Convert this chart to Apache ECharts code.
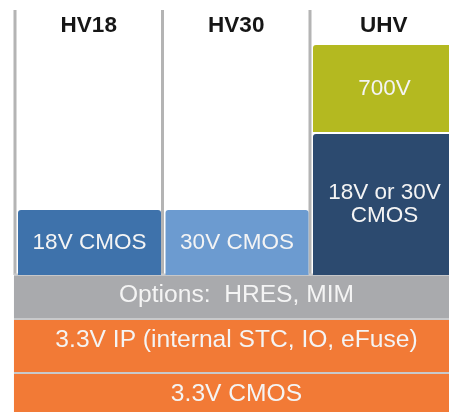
<!DOCTYPE html>
<html>
<head>
<meta charset="utf-8">
<script src="https://cdn.jsdelivr.net/npm/echarts@6/dist/echarts.min.js"></script>
<style>
html,body{margin:0;padding:0;background:#fff;overflow:hidden;width:449px;height:412px;}
#chart{width:462px;height:412px;}
</style>
</head>
<body>
<div id="chart"></div>
<script>
// Column headers (top tick labels)
const columns = ['HV18', 'HV30', 'UHV'];

// Column-specific blocks (stack levels, arbitrary units)
const blockNames  = ['18V CMOS', '30V CMOS', '18V or 30V\nCMOS', '700V'];
const blockColumn = [0, 1, 2, 2];
const blockBottom = [137, 137, 137, 280];
const blockTop    = [202, 202, 278, 367];

// Full-width shared layers
const bandNames  = ['Options:  HRES, MIM', '3.3V IP (internal STC, IO, eFuse)', '3.3V CMOS'];
const bandBottom = [94, 40, -10];
const bandTop    = [136.5, 92, 38];

// Styling
const blockColors = ['#3e72ab', '#6c9bd0', '#2c4a6f', '#b4b920'];
const bandColors  = ['#a9aaad', '#f27a36', '#f27a36'];
const FONT = '"Liberation Sans", Arial, Helvetica, sans-serif';
const TEXT_FILL = '#f4f4f4';

const chart = echarts.init(document.getElementById('chart'), null, {renderer: 'canvas'});

const option = {
  animation: false,
  backgroundColor: '#ffffff',
  grid: {left: 15, top: 10, width: 442.5, height: 402, containLabel: false},
  xAxis: [
    {type: 'value', min: 0, max: 3, show: false},
    {
      type: 'category', data: columns, position: 'top', boundaryGap: true,
      axisLine: {show: false}, axisTick: {show: false}, splitLine: {show: false},
      axisLabel: {margin: -27, color: '#161616', fontSize: 22.5, fontWeight: 'bold', fontFamily: FONT}
    }
  ],
  yAxis: {type: 'value', min: 0, max: 402, show: false},
  series: [
    // column frame lines
    {
      type: 'custom', xAxisIndex: 0, silent: true, clip: false,
      data: columns.map((c, i) => ({name: c, value: [i]})),
      renderItem: function (params, api) {
        const i = api.value(0);
        const pTop = api.coord([i, 402]);
        const pBot = api.coord([i, 137]);
        return {
          type: 'rect',
          shape: {x: pTop[0] - 1.5, y: pTop[1], width: 3, height: pBot[1] - pTop[1]},
          style: {fill: '#b4b4b4'}
        };
      }
    },
    // shared bands
    {
      type: 'custom', xAxisIndex: 0, silent: true, clip: false,
      data: bandNames.map((n, i) => ({name: n, value: [bandBottom[i], bandTop[i]]})),
      renderItem: function (params, api) {
        const idx = params.dataIndex;
        const b = api.value(0), t = api.value(1);
        const p0 = api.coord([-0.007, t]);
        const p1 = api.coord([3.01, b]);
        const x0 = p0[0], x1 = p1[0];
        return {
          type: 'group',
          children: [
            {type: 'rect', shape: {x: x0, y: p0[1] - 2, width: x1 - x0, height: 2}, style: {fill: '#c8c9cb'}},
            {type: 'rect', shape: {x: x0, y: p0[1], width: x1 - x0, height: p1[1] - p0[1]}, style: {fill: bandColors[idx]}},
            {
              type: 'text',
              style: {
                text: bandNames[idx], x: (x0 + x1) / 2, y: p0[1] + 20,
                fill: TEXT_FILL, font: '24.6px ' + FONT, align: 'center', verticalAlign: 'middle'
              }
            }
          ]
        };
      }
    },
    // column blocks
    {
      type: 'custom', xAxisIndex: 0, silent: true, clip: false,
      data: blockNames.map((n, i) => ({name: n, value: [blockColumn[i], blockBottom[i], blockTop[i]]})),
      renderItem: function (params, api) {
        const idx = params.dataIndex;
        const col = api.value(0), b = api.value(1), t = api.value(2);
        const p0 = api.coord([col, t]);
        const p1 = api.coord([col + 1, b]);
        const x0 = p0[0] + 3, x1 = p1[0] - 1.5;
        return {
          type: 'group',
          children: [
            {
              type: 'rect',
              shape: {x: x0, y: p0[1], width: x1 - x0, height: p1[1] - p0[1], r: [3, 3, 0, 0]},
              style: {fill: blockColors[idx]}
            },
            {
              type: 'text',
              style: {
                text: blockNames[idx], x: (x0 + x1) / 2, y: (p0[1] + p1[1]) / 2,
                fill: TEXT_FILL, font: '22.5px ' + FONT, align: 'center', verticalAlign: 'middle',
                lineHeight: 23
              }
            }
          ]
        };
      }
    }
  ]
};
chart.setOption(option);
</script>
</body>
</html>
